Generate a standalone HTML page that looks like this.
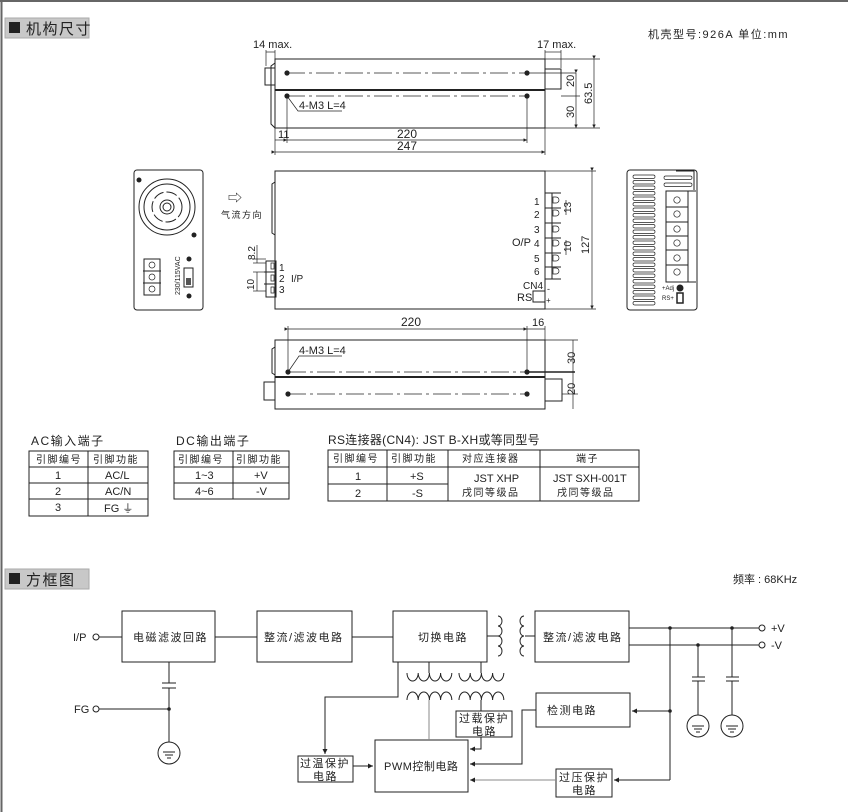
<!DOCTYPE html>
<html><head><meta charset="utf-8"><style>
html,body{margin:0;padding:0;background:#fff}
svg{display:block}
text{font-family:"Liberation Sans Narrow","Liberation Sans","Noto Sans CJK SC",sans-serif;fill:#222}
.c{font-family:"Liberation Sans","Noto Sans CJK SC",sans-serif;letter-spacing:1.5px}
.n{font-family:"Liberation Sans",sans-serif;letter-spacing:0}
.l{stroke:#222;fill:none;stroke-width:1}
.g{stroke:#888;fill:none;stroke-width:1}
.t{stroke:#222;fill:none;stroke-width:0.7}
</style></head><body>
<svg width="848" height="812" viewBox="0 0 848 812" xmlns="http://www.w3.org/2000/svg">
<defs>
<marker id="a" viewBox="0 0 6 6" refX="6" refY="3" markerWidth="5" markerHeight="5" orient="auto"><path d="M0,0L6,3L0,6z" fill="#222"/></marker>
</defs>
<line x1="1.5" y1="0" x2="1.5" y2="812" stroke="#666" stroke-width="2"/>
<line x1="0" y1="1" x2="848" y2="1" stroke="#666" stroke-width="2"/>

<rect x="5" y="18" width="84" height="20" fill="#c8c8c8" stroke="#aaa"/>
<rect x="9" y="22" width="11" height="11" fill="#222"/>
<text x="26" y="34" class="c" font-size="15" fill="#333">机构尺寸</text>
<text x="648" y="38" class="c" font-size="11" fill="#444">机壳型号:926A  单位:mm</text>

<g>
<rect x="275" y="59" width="270" height="69" class="l" stroke-width="1.3"/>
<line x1="275" y1="90" x2="545" y2="90" stroke="#222" stroke-width="2"/>
<rect x="265" y="68" width="10" height="17" class="l"/>
<path d="M275,63 L271,66 L271,124 L275,128" class="l"/>
<rect x="545" y="69" width="16" height="20" class="l"/>
<line x1="287" y1="73" x2="527" y2="73" class="t" stroke-dasharray="18,4,3,4"/>
<line x1="287" y1="96" x2="527" y2="96" class="t" stroke-dasharray="18,4,3,4"/>
<line x1="527" y1="73" x2="576" y2="73" class="t"/>
<circle cx="287" cy="73" r="2.6" fill="#222"/><circle cx="527" cy="73" r="2.6" fill="#222"/>
<circle cx="287" cy="96" r="2.6" fill="#222"/><circle cx="527" cy="96" r="2.6" fill="#222"/>
<path d="M287,96 L298,111 L342,111" class="t"/>
<text x="299" y="109" font-size="11">4-M3 L=4</text>
<text x="253" y="48" font-size="11">14 max.</text>
<line x1="266" y1="50" x2="266" y2="66" class="t"/><line x1="275" y1="50" x2="275" y2="59" class="t"/>
<line x1="266" y1="52" x2="275" y2="52" class="t"/>
<text x="537" y="48" font-size="11">17 max.</text>
<line x1="545" y1="50" x2="545" y2="59" class="t"/><line x1="561" y1="50" x2="561" y2="68" class="t"/>
<line x1="545" y1="52" x2="561" y2="52" class="t"/>
<line x1="275" y1="128" x2="275" y2="155" class="t"/><line x1="287" y1="96" x2="287" y2="143" class="t"/>
<line x1="527" y1="96" x2="527" y2="143" class="t"/><line x1="545" y1="128" x2="545" y2="155" class="t"/>
<line x1="287" y1="140" x2="527" y2="140" class="t" marker-start="url(#a)" marker-end="url(#a)"/>
<line x1="275" y1="140" x2="287" y2="140" class="t"/>
<text x="278" y="138" font-size="11">11</text>
<text x="397" y="138" font-size="12">220</text>
<line x1="275" y1="152" x2="545" y2="152" class="t" marker-start="url(#a)" marker-end="url(#a)"/>
<text x="397" y="150" font-size="12">247</text>
<line x1="545" y1="59" x2="600" y2="59" class="t"/><line x1="545" y1="128" x2="600" y2="128" class="t"/>
<line x1="561" y1="96" x2="580" y2="96" class="t"/>
<line x1="594" y1="59" x2="594" y2="128" class="t" marker-start="url(#a)" marker-end="url(#a)"/>
<line x1="576" y1="73" x2="576" y2="128" class="t" marker-start="url(#a)" marker-end="url(#a)"/>
<text transform="translate(574,87) rotate(-90)" font-size="11">20</text>
<text transform="translate(574,118) rotate(-90)" font-size="11">30</text>
<text transform="translate(592,104) rotate(-90)" font-size="11">63.5</text>
</g>

<g>
<rect x="134" y="170" width="69" height="140" rx="3" class="l"/>
<circle cx="167" cy="207" r="28" class="l"/>
<circle cx="167" cy="207" r="23" class="l"/>
<circle cx="167" cy="207" r="15" class="l" stroke-width="3" stroke-dasharray="11,3"/>
<circle cx="167" cy="207" r="7" class="l"/>
<circle cx="167" cy="207" r="4" class="l"/>
<circle cx="139" cy="180" r="2.5" fill="#222"/><circle cx="194" cy="235" r="2.5" fill="#222"/>
<circle cx="189" cy="259" r="2.5" fill="#222"/><circle cx="189" cy="296" r="2.5" fill="#222"/>
<rect x="144" y="259" width="16" height="36" class="l" stroke-width="2"/>
<line x1="143" y1="271" x2="161" y2="271" class="l" stroke-width="1.5"/><line x1="143" y1="283" x2="161" y2="283" class="l" stroke-width="1.5"/>
<circle cx="152" cy="265" r="3" class="t"/><circle cx="152" cy="277" r="3" class="t"/><circle cx="152" cy="289" r="3" class="t"/>
<rect x="184" y="268" width="9" height="19" class="l" stroke-width="1.3"/>
<rect x="186" y="278" width="5" height="7" fill="#555"/>
<text transform="translate(180,295) rotate(-90)" font-size="7">230/115VAC</text>
</g>
<text x="228" y="203" font-size="14">⇨</text>
<text x="221" y="218" class="c" font-size="9" fill="#444">气流方向</text>

<g>
<rect x="275" y="171" width="270" height="138" class="l" stroke-width="1.3"/>
<path d="M275,182 L272,184 L272,233 L275,235" class="l" stroke-width="1.5"/>
<rect x="266" y="261" width="10" height="36" class="l"/>
<line x1="264" y1="272" x2="276" y2="272" class="l"/><line x1="264" y1="284" x2="276" y2="284" class="l"/>
<path d="M271,263 h3 v6 h-3 z M271,275 h3 v6 h-3z M271,287 h3 v6 h-3z" class="t"/>
<text x="279" y="271" font-size="10">1</text><text x="279" y="282" font-size="10">2</text><text x="279" y="293" font-size="10">3</text>
<text x="291" y="282" font-size="10">I/P</text>
<line x1="253" y1="259" x2="266" y2="259" class="t"/><line x1="253" y1="263" x2="266" y2="263" class="t"/>
<line x1="257" y1="245" x2="257" y2="263" class="t"/>
<text transform="translate(255,260) rotate(-90)" font-size="10">8.2</text>
<line x1="253" y1="272" x2="266" y2="272" class="t"/><line x1="253" y1="291" x2="266" y2="291" class="t"/>
<line x1="257" y1="272" x2="257" y2="291" class="t"/>
<text transform="translate(254,290) rotate(-90)" font-size="10">10</text>
<rect x="545" y="193" width="7" height="86" class="l"/>
<g class="l">
<line x1="545" y1="193" x2="561" y2="193"/><line x1="545" y1="208" x2="561" y2="208"/>
<line x1="545" y1="223" x2="561" y2="223"/><line x1="545" y1="238" x2="561" y2="238"/>
<line x1="545" y1="253" x2="561" y2="253"/><line x1="545" y1="267" x2="561" y2="267"/>
<line x1="545" y1="279" x2="561" y2="279"/>
</g>
<g class="t">
<path d="M553,197 h3 a3,3 0 0 1 0,6 h-3z"/><path d="M553,210 h3 a3,3 0 0 1 0,6 h-3z"/>
<path d="M553,226 h3 a3,3 0 0 1 0,6 h-3z"/><path d="M553,240 h3 a3,3 0 0 1 0,6 h-3z"/>
<path d="M553,255 h3 a3,3 0 0 1 0,6 h-3z"/><path d="M553,268 h3 a3,3 0 0 1 0,6 h-3z"/>
</g>
<text x="534" y="205" font-size="10">1</text><text x="534" y="218" font-size="10">2</text>
<text x="534" y="233" font-size="10">3</text><text x="534" y="247" font-size="10">4</text>
<text x="534" y="262" font-size="10">5</text><text x="534" y="275" font-size="10">6</text>
<text x="512" y="246" font-size="11">O/P</text>
<line x1="566" y1="200" x2="566" y2="215" class="t"/>
<text transform="translate(571,213) rotate(-90)" font-size="10">13</text>
<line x1="566" y1="240" x2="566" y2="255" class="t"/>
<text transform="translate(571,252) rotate(-90)" font-size="10">10</text>
<text x="523" y="289" font-size="10">CN4</text>
<text x="517" y="301" font-size="11">RS</text>
<rect x="533" y="291" width="12" height="11" class="l"/>
<text x="547" y="292" font-size="9">-</text><text x="546" y="303" font-size="8">+</text>
<line x1="545" y1="171" x2="596" y2="171" class="t"/><line x1="545" y1="309" x2="596" y2="309" class="t"/>
<line x1="592" y1="171" x2="592" y2="309" class="t" marker-start="url(#a)" marker-end="url(#a)"/>
<text transform="translate(589,254) rotate(-90)" font-size="11">127</text>
</g>

<g>
<rect x="627" y="170" width="70" height="140" rx="3" class="l" stroke-width="1.3"/>
<g class="t">
<rect x="633" y="175" width="22" height="3.5" rx="1.7"/><rect x="633" y="180.5" width="22" height="3.5" rx="1.7"/>
<rect x="633" y="186" width="22" height="3.5" rx="1.7"/><rect x="633" y="191.5" width="22" height="3.5" rx="1.7"/>
<rect x="633" y="197" width="22" height="3.5" rx="1.7"/><rect x="633" y="202.5" width="22" height="3.5" rx="1.7"/>
<rect x="633" y="208" width="22" height="3.5" rx="1.7"/><rect x="633" y="213.5" width="22" height="3.5" rx="1.7"/>
<rect x="633" y="219" width="22" height="3.5" rx="1.7"/><rect x="633" y="224.5" width="22" height="3.5" rx="1.7"/>
<rect x="633" y="230" width="22" height="3.5" rx="1.7"/><rect x="633" y="235.5" width="22" height="3.5" rx="1.7"/>
<rect x="633" y="241" width="22" height="3.5" rx="1.7"/><rect x="633" y="246.5" width="22" height="3.5" rx="1.7"/>
<rect x="633" y="252" width="22" height="3.5" rx="1.7"/><rect x="633" y="257.5" width="22" height="3.5" rx="1.7"/>
<rect x="633" y="263" width="22" height="3.5" rx="1.7"/><rect x="633" y="268.5" width="22" height="3.5" rx="1.7"/>
<rect x="633" y="274" width="22" height="3.5" rx="1.7"/><rect x="633" y="279.5" width="22" height="3.5" rx="1.7"/>
<rect x="633" y="285" width="22" height="3.5" rx="1.7"/><rect x="633" y="290.5" width="22" height="3.5" rx="1.7"/>
<rect x="633" y="296" width="22" height="3.5" rx="1.7"/><rect x="633" y="301.5" width="22" height="3.5" rx="1.7"/>
<rect x="664" y="176" width="28" height="3.5" rx="1.7"/><rect x="664" y="183" width="28" height="3.5" rx="1.7"/>
</g>
<path d="M676,171 L694,171 L694,190" class="l" stroke-width="2"/>
<rect x="666" y="191" width="22" height="91" class="l" stroke-width="1.3"/>
<line x1="688" y1="191" x2="696" y2="191" class="l"/><line x1="688" y1="282" x2="696" y2="282" class="l"/>
<g class="l"><line x1="666" y1="207" x2="688" y2="207"/><line x1="666" y1="222" x2="688" y2="222"/><line x1="666" y1="236" x2="688" y2="236"/><line x1="666" y1="250" x2="688" y2="250"/><line x1="666" y1="265" x2="688" y2="265"/></g>
<g class="t">
<circle cx="677" cy="200" r="3.2"/><circle cx="677" cy="214" r="3.2"/><circle cx="677" cy="229" r="3.2"/>
<circle cx="677" cy="243" r="3.2"/><circle cx="677" cy="258" r="3.2"/><circle cx="677" cy="272" r="3.2"/>
</g>
<text x="662" y="290" font-size="6">+Adj</text>
<circle cx="680" cy="288" r="3.5" fill="#222"/>
<text x="662" y="300" font-size="6">RS+</text>
<rect x="677" y="293" width="6" height="10" fill="none" stroke="#222" stroke-width="1.5"/>
</g>

<g>
<rect x="275" y="340" width="270" height="69" class="l" stroke-width="1.3"/>
<line x1="275" y1="377" x2="545" y2="377" stroke="#222" stroke-width="2"/>
<path d="M275,347 L272,349 L272,373 L275,375" class="l"/>
<rect x="264" y="382" width="11" height="18" class="l"/>
<rect x="545" y="379" width="17" height="22" class="l"/>
<line x1="288" y1="372" x2="527" y2="372" class="t" stroke-dasharray="18,4,3,4"/>
<line x1="288" y1="394" x2="527" y2="394" class="t" stroke-dasharray="18,4,3,4"/>
<line x1="527" y1="372" x2="575" y2="372" stroke="#222" stroke-width="1.5"/>
<circle cx="288" cy="372" r="2.6" fill="#222"/><circle cx="527" cy="372" r="2.6" fill="#222"/>
<circle cx="288" cy="394" r="2.6" fill="#222"/><circle cx="527" cy="394" r="2.6" fill="#222"/>
<path d="M288,372 L299,356 L342,356" class="t"/>
<text x="299" y="354" font-size="11">4-M3 L=4</text>
<line x1="288" y1="326" x2="288" y2="372" class="t"/><line x1="527" y1="326" x2="527" y2="372" class="t"/>
<line x1="545" y1="326" x2="545" y2="340" class="t"/>
<line x1="288" y1="329" x2="527" y2="329" class="t" marker-start="url(#a)" marker-end="url(#a)"/>
<line x1="527" y1="329" x2="545" y2="329" class="t"/>
<text x="401" y="326" font-size="12">220</text>
<text x="532" y="326" font-size="11">16</text>
<line x1="545" y1="340" x2="578" y2="340" class="t"/><line x1="562" y1="394" x2="578" y2="394" class="t"/>
<line x1="573" y1="340" x2="573" y2="409" class="t"/>
<text transform="translate(575,364) rotate(-90)" font-size="11">30</text>
<text transform="translate(575,395) rotate(-90)" font-size="11">20</text>
</g>

<g font-size="11">
<text x="31" y="445" class="c" font-size="12">AC输入端子</text>
<rect x="29" y="451" width="119" height="65" class="l"/>
<line x1="88" y1="451" x2="88" y2="516" class="l"/>
<line x1="29" y1="467" x2="148" y2="467" class="l"/><line x1="29" y1="483" x2="148" y2="483" class="l"/><line x1="29" y1="499" x2="148" y2="499" class="l"/>
<text x="36" y="463" class="c" font-size="10" fill="#666">引脚编号</text><text x="93" y="463" class="c" font-size="10" fill="#666">引脚功能</text>
<text x="55" y="479">1</text><text x="105" y="479">AC/L</text>
<text x="55" y="495">2</text><text x="105" y="495">AC/N</text>
<text x="55" y="511">3</text><text x="104" y="512">FG ⏚</text>

<text x="176" y="445" class="c" font-size="12">DC输出端子</text>
<rect x="174" y="451" width="115" height="48" class="l"/>
<line x1="233" y1="451" x2="233" y2="499" class="l"/>
<line x1="174" y1="467" x2="289" y2="467" class="l"/><line x1="174" y1="483" x2="289" y2="483" class="l"/>
<text x="178" y="463" class="c" font-size="10" fill="#666">引脚编号</text><text x="236" y="463" class="c" font-size="10" fill="#666">引脚功能</text>
<text x="195" y="479">1~3</text><text x="254" y="479">+V</text>
<text x="195" y="495">4~6</text><text x="256" y="495">-V</text>

<text x="328" y="444" class="c" font-size="12" style="letter-spacing:0.3px">RS连接器(CN4): JST B-XH或等同型号</text>
<rect x="328" y="450" width="311" height="51" class="l"/>
<line x1="387" y1="450" x2="387" y2="501" class="l"/><line x1="448" y1="450" x2="448" y2="501" class="l"/><line x1="540" y1="450" x2="540" y2="501" class="l"/>
<line x1="328" y1="467" x2="639" y2="467" class="l"/><line x1="328" y1="484" x2="448" y2="484" class="l"/>
<text x="333" y="462" class="c" font-size="10" fill="#666">引脚编号</text><text x="391" y="462" class="c" font-size="10" fill="#666">引脚功能</text>
<text x="462" y="462" class="c" font-size="10" fill="#666">对应连接器</text><text x="576" y="462" class="c" font-size="10" fill="#666">端子</text>
<text x="355" y="480">1</text><text x="410" y="480">+S</text>
<text x="355" y="497">2</text><text x="412" y="497">-S</text>
<text x="474" y="482">JST XHP</text><text x="462" y="496" class="c" font-size="10">戌同等级品</text>
<text x="553" y="482">JST SXH-001T</text><text x="557" y="496" class="c" font-size="10">戌同等级品</text>
</g>

<rect x="5" y="569" width="84" height="20" fill="#c8c8c8" stroke="#aaa"/>
<rect x="9" y="573" width="11" height="11" fill="#222"/>
<text x="26" y="585" class="c" font-size="15" fill="#333">方框图</text>
<text x="733" y="583" class="c" font-size="11" style="letter-spacing:0">频率 : 68KHz</text>

<g class="l">
<rect x="122" y="611" width="93" height="51"/>
<rect x="257" y="611" width="95" height="51"/>
<rect x="393" y="611" width="94" height="51"/>
<rect x="535" y="611" width="94" height="51"/>
<rect x="536" y="693" width="94" height="34"/>
<rect x="375" y="740" width="93" height="52"/>
<rect x="298" y="756" width="55" height="26"/>
<rect x="456" y="711" width="56" height="26"/>
<rect x="556" y="769" width="56" height="28"/>
<line x1="99" y1="637" x2="122" y2="637"/>
<line x1="215" y1="637" x2="257" y2="637"/>
<line x1="352" y1="637" x2="393" y2="637"/>
<line x1="487" y1="636" x2="498" y2="636"/>
<line x1="525" y1="636" x2="535" y2="636"/>
<line x1="629" y1="628" x2="759" y2="628"/>
<line x1="629" y1="645" x2="759" y2="645"/>
<line x1="670" y1="628" x2="670" y2="780"/>
<line x1="698" y1="645" x2="698" y2="677"/><line x1="698" y1="681" x2="698" y2="715"/>
<line x1="732" y1="628" x2="732" y2="677"/><line x1="732" y1="681" x2="732" y2="715"/>
<line x1="692" y1="677" x2="705" y2="677"/><line x1="692" y1="681" x2="705" y2="681"/>
<line x1="726" y1="677" x2="739" y2="677"/><line x1="726" y1="681" x2="739" y2="681"/>
<circle cx="698" cy="726" r="11"/><circle cx="732" cy="726" r="11"/>
<line x1="692" y1="726" x2="704" y2="726"/><line x1="694" y1="729" x2="702" y2="729"/><line x1="696" y1="732" x2="700" y2="732"/>
<line x1="726" y1="726" x2="738" y2="726"/><line x1="728" y1="729" x2="736" y2="729"/><line x1="730" y1="732" x2="734" y2="732"/>
<line x1="169" y1="662" x2="169" y2="683"/><line x1="169" y1="688" x2="169" y2="742"/>
<line x1="162" y1="683" x2="176" y2="683"/><line x1="162" y1="688" x2="176" y2="688"/>
<line x1="99" y1="709" x2="169" y2="709"/>
<circle cx="169" cy="753" r="11"/>
<line x1="163" y1="752" x2="175" y2="752"/><line x1="165" y1="755" x2="173" y2="755"/><line x1="167" y1="758" x2="171" y2="758"/>
<path d="M398,662 V697 H325 V754" marker-end="url(#a)"/>
<line x1="353" y1="766" x2="373" y2="766" marker-end="url(#a)"/>
<line x1="429" y1="662" x2="429" y2="673"/>
<line x1="481" y1="662" x2="481" y2="673"/>
<line x1="481" y1="700" x2="481" y2="711"/>
<path d="M481,737 V749 H470" marker-end="url(#a)"/>
<path d="M670,711 H632" marker-end="url(#a)"/>
<path d="M536,710 H522 V764 H470" marker-end="url(#a)"/>
<path d="M670,780 H614" marker-end="url(#a)"/>
</g>
<line x1="429" y1="700" x2="429" y2="740" class="g"/>
<path d="M556,780 H470" class="g" marker-end="url(#a)"/>
<g fill="#222">
<circle cx="670" cy="628" r="1.8"/><circle cx="698" cy="645" r="1.8"/><circle cx="732" cy="628" r="1.8"/>
<circle cx="670" cy="711" r="1.8"/><circle cx="169" cy="709" r="1.8"/>
</g>
<g class="l">
<circle cx="96" cy="637" r="3" fill="#fff"/><circle cx="96" cy="709" r="3" fill="#fff"/>
<circle cx="762" cy="628" r="3" fill="#fff"/><circle cx="762" cy="645" r="3" fill="#fff"/>
</g>
<g class="l">
<path d="M498,616 a4,5 0 0 1 0,10 a4,5 0 0 1 0,10 a4,5 0 0 1 0,10 a4,5 0 0 1 0,10"/>
<path d="M524,616 a4,5 0 0 0 0,10 a4,5 0 0 0 0,10 a4,5 0 0 0 0,10 a4,5 0 0 0 0,10"/>
<path d="M407,673 a5.6,8 0 0 0 11.2,0 a5.6,8 0 0 0 11.2,0 a5.6,8 0 0 0 11.2,0 a5.6,8 0 0 0 11.2,0"/>
<path d="M459,673 a5.6,8 0 0 0 11.2,0 a5.6,8 0 0 0 11.2,0 a5.6,8 0 0 0 11.2,0 a5.6,8 0 0 0 11.2,0"/>
<path d="M407,700 a5.6,8 0 0 1 11.2,0 a5.6,8 0 0 1 11.2,0 a5.6,8 0 0 1 11.2,0 a5.6,8 0 0 1 11.2,0"/>
<path d="M459,700 a5.6,8 0 0 1 11.2,0 a5.6,8 0 0 1 11.2,0 a5.6,8 0 0 1 11.2,0 a5.6,8 0 0 1 11.2,0"/>
</g>
<text x="73" y="641" class="n" font-size="11">I/P</text>
<text x="74" y="713" class="n" font-size="11">FG</text>
<text x="771" y="632" class="n" font-size="11">+V</text>
<text x="771" y="649" class="n" font-size="11">-V</text>
<g class="c" font-size="11">
<text x="133" y="641">电磁滤波回路</text>
<text x="264" y="641">整流/滤波电路</text>
<text x="418" y="641">切换电路</text>
<text x="543" y="641">整流/滤波电路</text>
<text x="547" y="714">检测电路</text>
<text x="384" y="770" style="letter-spacing:0.5px">PWM控制电路</text>
<text x="300" y="767">过温保护</text><text x="313" y="780">电路</text>
<text x="459" y="722">过载保护</text><text x="472" y="735">电路</text>
<text x="559" y="781">过压保护</text><text x="572" y="794">电路</text>
</g>
</svg>
</body></html>
